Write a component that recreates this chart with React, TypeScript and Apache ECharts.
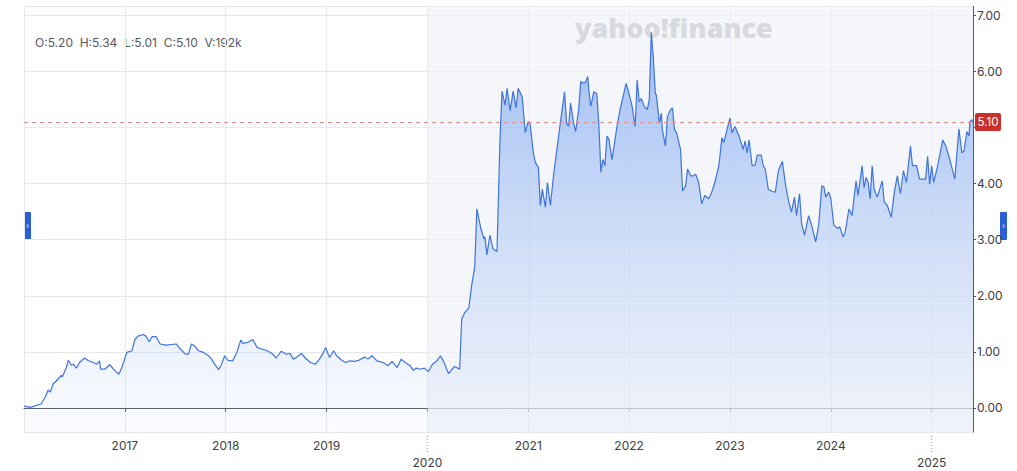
import React, { useEffect, useRef } from "react";
import * as echarts from "echarts";

// decimal years
const dates: number[] = [
  2016.0, 2016.06, 2016.17, 2016.21, 2016.24, 2016.26, 2016.29, 2016.32, 2016.37, 2016.38,
  2016.42, 2016.44, 2016.47, 2016.49, 2016.52, 2016.55, 2016.6, 2016.64, 2016.69, 2016.72,
  2016.75, 2016.76, 2016.8, 2016.85, 2016.9, 2016.94, 2016.97, 2017.02, 2017.07, 2017.1,
  2017.13, 2017.18, 2017.21, 2017.24, 2017.27, 2017.31, 2017.35, 2017.41, 2017.51, 2017.55,
  2017.6, 2017.63, 2017.66, 2017.69, 2017.73, 2017.78, 2017.83, 2017.86, 2017.89, 2017.93,
  2017.96, 2017.99, 2018.02, 2018.07, 2018.11, 2018.15, 2018.17, 2018.22, 2018.27, 2018.31,
  2018.36, 2018.41, 2018.46, 2018.5, 2018.55, 2018.6, 2018.64, 2018.67, 2018.7, 2018.75,
  2018.79, 2018.84, 2018.89, 2018.93, 2018.97, 2018.99, 2019.03, 2019.07, 2019.1, 2019.15,
  2019.19, 2019.23, 2019.28, 2019.32, 2019.38, 2019.41, 2019.45, 2019.5, 2019.56, 2019.61,
  2019.65, 2019.7, 2019.74, 2019.78, 2019.83, 2019.86, 2019.89, 2019.93, 2019.97, 2020.01,
  2020.05, 2020.09, 2020.13, 2020.16, 2020.21, 2020.24, 2020.27, 2020.32, 2020.34, 2020.37,
  2020.41, 2020.44, 2020.47, 2020.49, 2020.53, 2020.56, 2020.57, 2020.59, 2020.62, 2020.65,
  2020.69, 2020.72, 2020.74, 2020.77, 2020.79, 2020.82, 2020.85, 2020.88, 2020.9, 2020.94,
  2020.97, 2021.0, 2021.02, 2021.05, 2021.07, 2021.1, 2021.12, 2021.14, 2021.17, 2021.19,
  2021.22, 2021.25, 2021.28, 2021.32, 2021.36, 2021.38, 2021.4, 2021.42, 2021.45, 2021.47,
  2021.5, 2021.52, 2021.55, 2021.57, 2021.59, 2021.6, 2021.62, 2021.65, 2021.68, 2021.7,
  2021.72, 2021.74, 2021.76, 2021.78, 2021.8, 2021.83, 2021.85, 2021.88, 2021.91, 2021.94,
  2021.97, 2021.99, 2022.03, 2022.06, 2022.08, 2022.1, 2022.12, 2022.15, 2022.18, 2022.2,
  2022.22, 2022.24, 2022.26, 2022.27, 2022.3, 2022.32, 2022.33, 2022.36, 2022.38, 2022.41,
  2022.43, 2022.45, 2022.47, 2022.51, 2022.53, 2022.56, 2022.58, 2022.61, 2022.64, 2022.66,
  2022.69, 2022.72, 2022.75, 2022.79, 2022.82, 2022.85, 2022.89, 2022.92, 2022.94, 2022.97,
  2023.0, 2023.02, 2023.05, 2023.09, 2023.13, 2023.15, 2023.17, 2023.19, 2023.22, 2023.25,
  2023.27, 2023.31, 2023.33, 2023.35, 2023.38, 2023.42, 2023.45, 2023.48, 2023.52, 2023.55,
  2023.58, 2023.61, 2023.64, 2023.66, 2023.69, 2023.71, 2023.74, 2023.78, 2023.81, 2023.85,
  2023.88, 2023.91, 2023.93, 2023.95, 2023.98, 2024.0, 2024.03, 2024.07, 2024.09, 2024.12,
  2024.14, 2024.18, 2024.21, 2024.25, 2024.27, 2024.31, 2024.33, 2024.35, 2024.37, 2024.39,
  2024.41, 2024.43, 2024.46, 2024.48, 2024.51, 2024.53, 2024.56, 2024.6, 2024.63, 2024.66,
  2024.69, 2024.72, 2024.75, 2024.79, 2024.81, 2024.85, 2024.88, 2024.94, 2024.96, 2024.98,
  2025.0, 2025.02, 2025.06, 2025.11, 2025.14, 2025.18, 2025.23, 2025.27, 2025.3, 2025.32,
  2025.35, 2025.37, 2025.38, 2025.4, 2025.41,
];

const prices: number[] = [
  0.03, 0.01, 0.07, 0.19, 0.32, 0.28, 0.43, 0.48, 0.58, 0.55,
  0.72, 0.85, 0.76, 0.78, 0.71, 0.81, 0.89, 0.84, 0.81, 0.78,
  0.84, 0.69, 0.69, 0.77, 0.67, 0.6, 0.72, 0.99, 1.02, 1.22,
  1.28, 1.31, 1.28, 1.18, 1.27, 1.27, 1.14, 1.12, 1.14, 1.05,
  0.96, 0.96, 1.14, 1.11, 1.02, 0.99, 0.93, 0.87, 0.78, 0.68,
  0.78, 0.93, 0.85, 0.84, 0.99, 1.21, 1.15, 1.17, 1.22, 1.08,
  1.05, 1.02, 0.97, 0.89, 1.01, 0.96, 0.97, 0.87, 0.9, 0.97,
  0.89, 0.81, 0.78, 0.87, 0.99, 1.08, 0.9, 1.02, 0.93, 0.85,
  0.81, 0.84, 0.83, 0.85, 0.91, 0.87, 0.93, 0.84, 0.81, 0.75,
  0.83, 0.72, 0.87, 0.81, 0.75, 0.67, 0.71, 0.69, 0.71, 0.65,
  0.78, 0.83, 0.93, 0.83, 0.61, 0.68, 0.74, 0.69, 1.58, 1.7,
  1.78, 2.2, 2.52, 3.55, 3.2, 3.02, 3.05, 2.73, 3.08, 2.84,
  2.79, 4.8, 5.65, 5.4, 5.7, 5.3, 5.65, 5.35, 5.7, 5.55,
  4.91, 5.11, 5.05, 4.55, 4.38, 4.29, 3.61, 3.9, 3.58, 4.02,
  3.61, 4.14, 4.55, 5.11, 5.64, 5.08, 5.02, 5.44, 5.08, 4.93,
  5.32, 5.82, 5.79, 5.82, 5.91, 5.67, 5.38, 5.64, 5.6, 5.05,
  4.2, 4.43, 4.32, 4.85, 4.79, 4.43, 4.67, 5.02, 5.32, 5.55,
  5.79, 5.67, 5.38, 5.02, 5.85, 5.46, 5.52, 5.38, 5.32, 5.49,
  6.7, 6.26, 5.61, 5.58, 5.08, 5.26, 4.96, 4.67, 5.2, 5.32,
  5.35, 4.96, 4.91, 4.61, 3.87, 3.96, 4.26, 4.14, 4.14, 4.17,
  4.02, 3.64, 3.79, 3.73, 3.85, 4.02, 4.32, 4.82, 4.73, 4.96,
  5.17, 4.91, 5.02, 4.85, 4.61, 4.76, 4.55, 4.78, 4.32, 4.33,
  4.51, 4.51, 4.32, 4.26, 3.9, 3.86, 3.85, 4.23, 4.4, 3.99,
  3.7, 3.49, 3.76, 3.43, 3.82, 3.29, 3.08, 3.43, 3.26, 2.96,
  3.26, 3.96, 3.95, 3.76, 3.85, 3.73, 3.26, 3.2, 3.23, 3.05,
  3.11, 3.55, 3.43, 4.05, 3.79, 4.32, 3.93, 4.11, 4.02, 3.73,
  4.32, 3.9, 3.76, 3.87, 4.05, 3.67, 3.61, 3.4, 3.85, 4.14,
  3.82, 4.23, 4.02, 4.67, 4.32, 4.32, 4.08, 4.08, 4.49, 3.99,
  4.32, 4.02, 4.32, 4.78, 4.67, 4.43, 4.08, 4.98, 4.55, 4.58,
  4.93, 4.85, 5.11, 5.14, 5.1,
];

const yearTicks: number[] = [2017, 2018, 2019, 2020, 2021, 2022, 2023, 2024, 2025];
const offsetYears: number[] = [2020, 2025];
const lastClose = 5.1;
const ohlcText = "O:5.20  H:5.34  L:5.01  C:5.10  V:192k";
const shadeStart = 2020;

const FONT = "Inter, 'Liberation Sans', Arial, sans-serif";

export default function App() {
  const ref = useRef<HTMLDivElement>(null);
  useEffect(() => {
    if (!ref.current) return;
    const chart = echarts.init(ref.current, undefined, { renderer: "svg" });
    const xMin = 2016;
    const xMax = 2025.41;
    const yMin = -0.43;
    const yMax = 7.16;
    const data = dates.map((d, i) => [d, prices[i]]);
    const baseGraphic: any[] = [
      {
        type: "text",
        left: 35,
        top: 36,
        style: { text: ohlcText, fontSize: 12, fill: "#55585e", fontFamily: FONT },
      },
      {
        type: "text",
        left: 575,
        top: 14,
        z: 2,
        style: {
          text: "yahoo!finance",
          fontSize: 27,
          fontWeight: 900,
          fill: "#d8d9de",
          fontFamily: "'Open Sans', Inter, sans-serif",
        },
      },
      { type: "rect", shape: { x: 24, y: 212, width: 7, height: 28, r: 1 }, style: { fill: "#2c5fd6" } },
      { type: "text", x: 26, y: 221, style: { text: "›", fontSize: 9, fill: "#ffffff" } },
      { type: "rect", shape: { x: 1000, y: 212, width: 7, height: 28, r: 1 }, style: { fill: "#2c5fd6" } },
      { type: "text", x: 1002, y: 221, style: { text: "›", fontSize: 9, fill: "#ffffff" } },
    ];
    chart.setOption({
      animation: false,
      backgroundColor: "#ffffff",
      textStyle: { fontFamily: FONT },
      grid: { left: 24, right: 44, top: 6.5, bottom: 35 },
      xAxis: {
        type: "value",
        min: xMin,
        max: xMax,
        interval: 1,
        axisLine: { show: true, lineStyle: { color: "#555a60", width: 1 } },
        axisTick: { show: true, length: 4, lineStyle: { color: "#555a60" } },
        splitLine: { show: true, lineStyle: { color: "#e6e8ec", width: 1 } },
        axisLabel: {
          color: "#3a3d42",
          fontSize: 12,
          fontFamily: FONT,
          margin: 5,
          lineHeight: 17,
          showMinLabel: false,
          formatter: (v: number) => {
            if (!yearTicks.includes(v)) return "";
            return offsetYears.includes(v) ? "\n" + v : String(v);
          },
        },
      },
      yAxis: {
        type: "value",
        position: "right",
        min: yMin,
        max: yMax,
        splitNumber: 7,
        axisLine: { show: true, lineStyle: { color: "#555a60", width: 1 } },
        axisTick: { show: true, length: 3, lineStyle: { color: "#555a60" } },
        splitLine: { show: true, lineStyle: { color: "#e6e8ec", width: 1 } },
        axisLabel: {
          color: "#3a3d42",
          fontSize: 12,
          fontFamily: FONT,
          margin: 4,
          showMinLabel: false,
          showMaxLabel: false,
          // the tick label covered by the last-close badge is not shown
          formatter: (v: number) =>
            Math.abs(v - Math.round(v)) < 1e-6 && Math.abs(v - lastClose) > 0.25 ? v.toFixed(2) : "",
        },
      },
      series: [
        {
          type: "line",
          data: [],
          z: 1,
          silent: true,
          markArea: {
            silent: true,
            itemStyle: { color: "rgba(240,242,248,0.7)" },
            data: [[{ xAxis: shadeStart }, { xAxis: xMax }]],
          },
        },
        {
          type: "line",
          data,
          z: 3,
          showSymbol: false,
          symbol: "none",
          lineStyle: { color: "#3f74dc", width: 1.2 },
          areaStyle: {
            origin: "start",
            color: new echarts.graphic.LinearGradient(0, 0, 0, 1, [
              { offset: 0, color: "rgba(92,145,238,0.8)" },
              { offset: 0.45, color: "rgba(110,158,240,0.45)" },
              { offset: 1, color: "rgba(130,170,240,0.05)" },
            ]),
          },
          markLine: {
            silent: true,
            symbol: ["none", "none"],
            lineStyle: { color: "#e58a8a", type: [4, 4], width: 1 },
            label: { show: false },
            data: [{ yAxis: lastClose }],
          },
        },
      ],
      graphic: baseGraphic,
    });
    // pixel anchors derived from the axes
    const yBottom = chart.convertToPixel({ yAxisIndex: 0 }, yMin) as number;
    const yClose = chart.convertToPixel({ yAxisIndex: 0 }, lastClose) as number;
    const xRight = chart.convertToPixel({ xAxisIndex: 0 }, xMax) as number;
    const extra: any[] = offsetYears.map((yr) => {
      const px = chart.convertToPixel({ xAxisIndex: 0 }, yr) as number;
      return {
        type: "line",
        shape: { x1: px, y1: yBottom + 4, x2: px, y2: yBottom + 21 },
        style: { stroke: "#9a9ea5", lineWidth: 1, lineDash: [1, 2] },
      };
    });
    extra.push({
      type: "rect",
      z: 10,
      shape: { x: xRight + 2, y: yClose - 9, width: 26, height: 18, r: 2 },
      style: { fill: "#c9302c" },
    });
    extra.push({
      type: "text",
      z: 11,
      x: xRight + 15,
      y: yClose,
      style: {
        text: lastClose.toFixed(2),
        fill: "#ffffff",
        fontSize: 11.5,
        fontFamily: FONT,
        align: "center",
        verticalAlign: "middle",
      },
    });
    chart.setOption({ graphic: [...baseGraphic, ...extra] });
    return () => chart.dispose();
  }, []);
  return (
    <div
      ref={ref}
      style={{ position: "absolute", left: 0, top: 0, width: 1017, height: 471 }}
    />
  );
}
